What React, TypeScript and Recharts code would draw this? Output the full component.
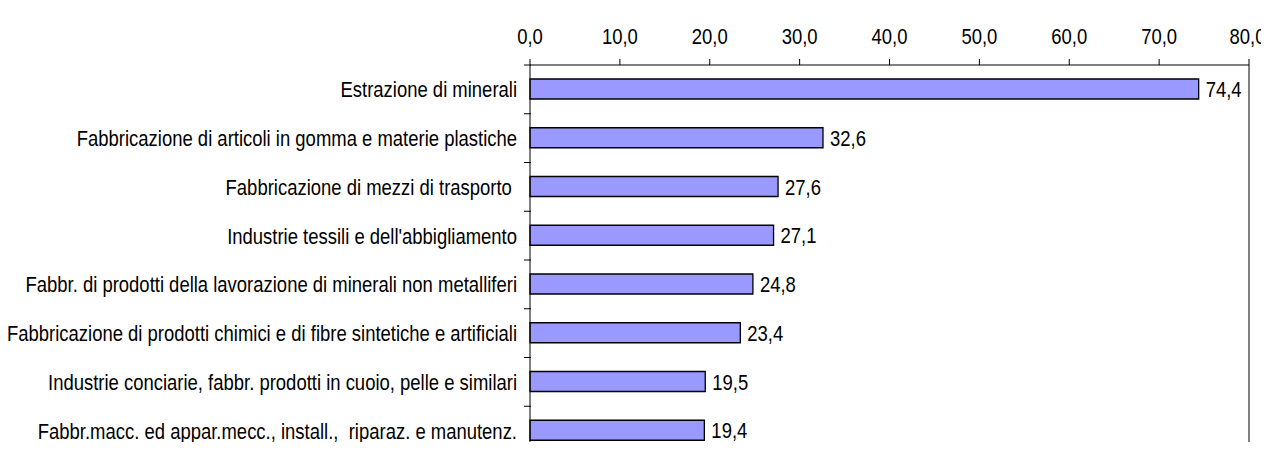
import React from 'react';
import { BarChart, Bar, XAxis, YAxis, ReferenceLine, LabelList } from 'recharts';

const categories = [
  'Estrazione di minerali',
  'Fabbricazione di articoli in gomma e materie plastiche',
  'Fabbricazione di mezzi di trasporto ',
  "Industrie tessili e dell'abbigliamento",
  'Fabbr. di prodotti della lavorazione di minerali non metalliferi',
  'Fabbricazione di prodotti chimici e di fibre sintetiche e artificiali',
  'Industrie conciarie, fabbr. prodotti in cuoio, pelle e similari',
  'Fabbr.macc. ed appar.mecc., install.,  riparaz. e manutenz.',
];

const values = [74.4, 32.6, 27.6, 27.1, 24.8, 23.4, 19.5, 19.4];

const xTicks = [0, 10, 20, 30, 40, 50, 60, 70, 80];

const data = categories.map((name, i) => ({ name, value: values[i] }));

// no narrow font installed, so squeeze Liberation Sans horizontally
const FONT = '"Liberation Sans", Arial, sans-serif';
const FS = 22;
const SQUEEZE = 0.84;
const CHART_W = 1261;
const CHART_H = 447;
const TOP = 57;
const BOTTOM = 0;
const band = (CHART_H - TOP - BOTTOM) / categories.length;

const fmt = (v: number) => v.toFixed(1).replace('.', ',');

const Narrow = ({ x, y, anchor, children }: any) => (
  <text
    transform={`translate(${x},${y}) scale(${SQUEEZE},1)`}
    textAnchor={anchor}
    fontSize={FS}
    fontFamily={FONT}
    fill="#000"
    style={{ whiteSpace: 'pre' }}
  >
    {children}
  </text>
);

// category label + the small tick at the upper edge of each band
const CategoryTick = ({ x, y, payload }: any) => (
  <g>
    <line x1={x + 2} x2={x + 9} y1={y - band / 2} y2={y - band / 2} stroke="#000" />
    <Narrow x={x - 5} y={y + 8} anchor="end">{payload.value}</Narrow>
  </g>
);

const ValueTick = ({ x, y, payload }: any) => (
  <Narrow x={payload.value === 80 ? x - 1.5 : x} y={y - 13} anchor="middle">{fmt(payload.value)}</Narrow>
);

const ValueLabel = ({ x, y, width, height, value }: any) => (
  <Narrow x={x + width + 7} y={y + height / 2 + 8} anchor="start">{fmt(Number(value))}</Narrow>
);

export default function App() {
  return (
    <div style={{ width: CHART_W, height: 434, overflow: 'hidden' }}>
      <BarChart
        layout="vertical"
        width={CHART_W}
        height={CHART_H}
        data={data}
        margin={{ top: TOP - 40, right: 20, bottom: BOTTOM, left: 0 }}
        barSize={20}
        style={{ overflow: 'visible' }}
      >
        <XAxis
          type="number"
          orientation="top"
          domain={[0, 80]}
          ticks={xTicks}
          height={40}
          stroke="#000"
          tickSize={6}
          tick={<ValueTick />}
        />
        <YAxis
          type="category"
          dataKey="name"
          width={522}
          stroke="#000"
          tickLine={false}
          interval={0}
          tick={<CategoryTick />}
        />
        <ReferenceLine x={80} stroke="#808080" strokeWidth={2} />
        <Bar dataKey="value" fill="#9999FF" stroke="#000" strokeWidth={1.3} isAnimationActive={false}>
          <LabelList dataKey="value" content={<ValueLabel />} />
        </Bar>
      </BarChart>
    </div>
  );
}
